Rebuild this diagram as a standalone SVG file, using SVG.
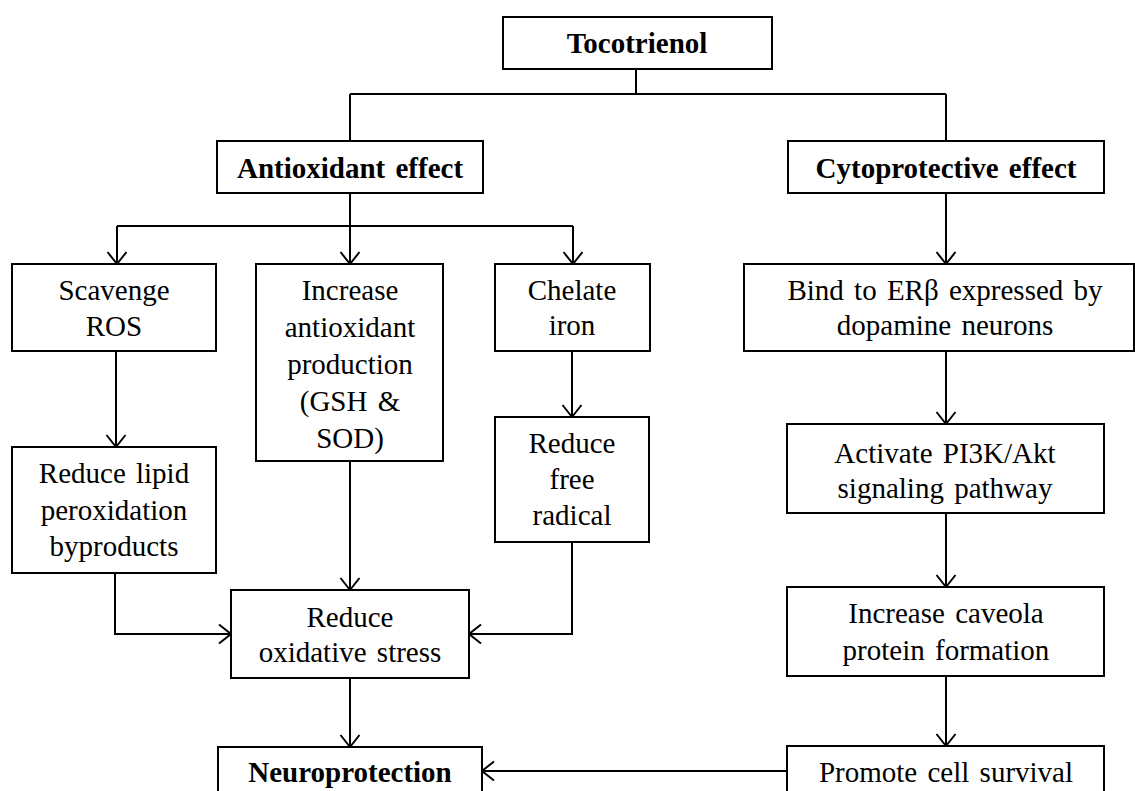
<svg xmlns="http://www.w3.org/2000/svg" width="1135" height="791" viewBox="0 0 1135 791">
  <style>
    .box { fill: #ffffff; stroke: #000000; stroke-width: 2; }
    .t { font-family: "Liberation Serif", "Times New Roman", Times, "DejaVu Serif", serif; font-size: 29px; font-weight: 400; fill: #000000; text-anchor: middle; word-spacing: 3px; }
    .b { font-weight: 700; }
    .ln { fill: none; stroke: #000000; stroke-width: 2; }
    .ar { fill: none; stroke: #000000; stroke-width: 2; marker-end: url(#arrow); }
  </style>
  <defs>
    <marker id="arrow" viewBox="-14 -11 16 22" refX="0" refY="0" markerWidth="16" markerHeight="22" markerUnits="userSpaceOnUse" orient="auto">
      <path d="M -12 -9.5 L 0 0 L -12 9.5" fill="none" stroke="#000000" stroke-width="2"/>
    </marker>
  </defs>
  <rect width="1135" height="791" fill="#ffffff"/>

  <!-- connectors -->
  <g id="connectors">
    <path class="ln" d="M 636 69 V 94 M 350 94 H 946 M 350 94 V 141 M 946 94 V 141"/>
    <path class="ln" d="M 350 193 V 226 M 117 226 H 573"/>
    <path class="ar" d="M 117 226 V 264"/>
    <path class="ar" d="M 350 226 V 264"/>
    <path class="ar" d="M 573 226 V 264"/>
    <path class="ar" d="M 946 193 V 264"/>
    <path class="ar" d="M 116 351 V 447"/>
    <path class="ar" d="M 572 351 V 417"/>
    <path class="ar" d="M 946 351 V 424"/>
    <path class="ar" d="M 946 513 V 587"/>
    <path class="ar" d="M 946 676 V 746"/>
    <path class="ar" d="M 350 461 V 590"/>
    <path class="ar" d="M 115 573 V 634 H 231"/>
    <path class="ar" d="M 572 542 V 634 H 469"/>
    <path class="ar" d="M 350 678 V 747"/>
    <path class="ar" d="M 787 771 H 482"/>
  </g>

  <g id="tocotrienol">
    <rect class="box" x="503" y="17" width="269" height="52"/>
    <text class="t b" x="637" y="53">Tocotrienol</text>
  </g>
  <g id="antioxidant-effect">
    <rect class="box" x="217" y="141" width="266" height="52"/>
    <text class="t b" x="350" y="178">Antioxidant effect</text>
  </g>
  <g id="cytoprotective-effect">
    <rect class="box" x="788" y="141" width="316" height="52"/>
    <text class="t b" x="946" y="178">Cytoprotective effect</text>
  </g>
  <g id="scavenge-ros">
    <rect class="box" x="12" y="264" width="204" height="87"/>
    <text class="t" x="114" y="300">Scavenge</text>
    <text class="t" x="114" y="336">ROS</text>
  </g>
  <g id="increase-antioxidant">
    <rect class="box" x="256" y="264" width="187" height="197"/>
    <text class="t" x="350" y="300">Increase</text>
    <text class="t" x="350" y="337">antioxidant</text>
    <text class="t" x="350" y="374">production</text>
    <text class="t" x="350" y="411">(GSH &amp;</text>
    <text class="t" x="350" y="448">SOD)</text>
  </g>
  <g id="chelate-iron">
    <rect class="box" x="495" y="264" width="155" height="87"/>
    <text class="t" x="572" y="300">Chelate</text>
    <text class="t" x="572" y="335">iron</text>
  </g>
  <g id="bind-erb">
    <rect class="box" x="744" y="264" width="390" height="87"/>
    <text class="t" x="945" y="300">Bind to ERβ expressed by</text>
    <text class="t" x="945" y="335">dopamine neurons</text>
  </g>
  <g id="reduce-lipid">
    <rect class="box" x="12" y="447" width="204" height="126"/>
    <text class="t" x="114" y="483">Reduce lipid</text>
    <text class="t" x="114" y="520">peroxidation</text>
    <text class="t" x="114" y="556">byproducts</text>
  </g>
  <g id="reduce-free-radical">
    <rect class="box" x="495" y="417" width="154" height="125"/>
    <text class="t" x="572" y="453">Reduce</text>
    <text class="t" x="572" y="489">free</text>
    <text class="t" x="572" y="525">radical</text>
  </g>
  <g id="activate-pi3k">
    <rect class="box" x="787" y="424" width="317" height="89"/>
    <text class="t" x="945" y="463">Activate PI3K/Akt</text>
    <text class="t" x="945" y="498">signaling pathway</text>
  </g>
  <g id="reduce-oxidative-stress">
    <rect class="box" x="231" y="590" width="238" height="88"/>
    <text class="t" x="350" y="627">Reduce</text>
    <text class="t" x="350" y="662">oxidative stress</text>
  </g>
  <g id="increase-caveola">
    <rect class="box" x="787" y="587" width="317" height="89"/>
    <text class="t" x="946" y="623">Increase caveola</text>
    <text class="t" x="946" y="660">protein formation</text>
  </g>
  <g id="neuroprotection">
    <rect class="box" x="218" y="747" width="264" height="60"/>
    <text class="t b" x="350" y="782">Neuroprotection</text>
  </g>
  <g id="promote-cell-survival">
    <rect class="box" x="787" y="746" width="317" height="60"/>
    <text class="t" x="946" y="782">Promote cell survival</text>
  </g>
</svg>
